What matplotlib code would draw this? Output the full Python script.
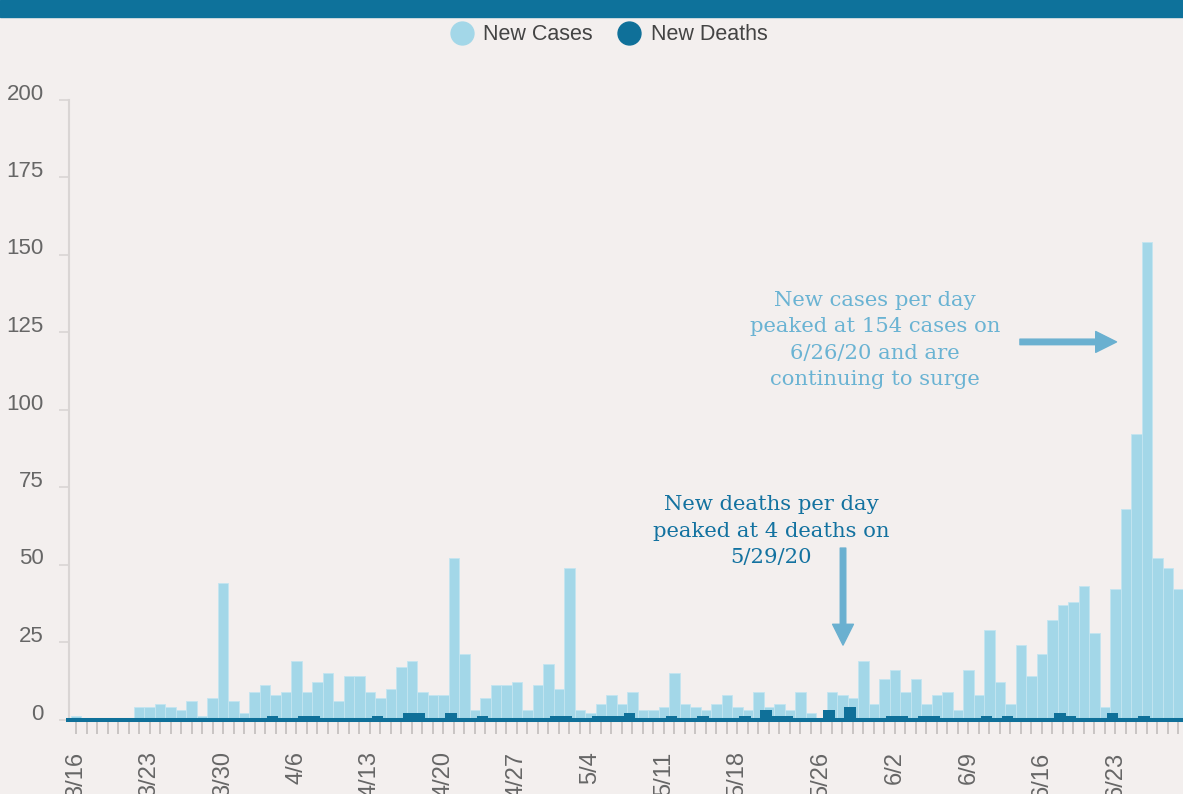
import matplotlib.pyplot as plt
import pandas as pd
from matplotlib.lines import Line2D
from matplotlib.patches import Rectangle

# daily counts from 3/16/20 to 6/29/20
dates = pd.date_range("2020-03-16", "2020-06-29", freq="D")
cases = [1, 0, 0, 0, 0, 0, 4, 4, 5, 4, 3, 6, 1, 7, 44, 6,
         2, 9, 11, 8, 9, 19, 9, 12, 15, 6, 14, 14, 9, 7, 10, 17, 19, 9, 8, 8,
         52, 21, 3, 7, 11, 11, 12, 3, 11, 18,
         10, 49, 3, 2, 5, 8, 5, 9, 3, 3, 4, 15, 5, 4, 3, 5, 8, 4, 3, 9,
         4, 5, 3, 9, 2, 0, 9, 8, 7, 19, 5,
         13, 16, 9, 13, 5, 8, 9, 3, 16, 8, 29, 12, 5, 24, 14, 21, 32, 37, 38, 43,
         28, 4, 42, 68, 92, 154, 52, 49, 42]
deaths = [0, 0, 0, 0, 0, 0, 0, 0, 0, 0,
          0, 0, 0, 0, 0, 0, 0, 0, 0, 1,
          0, 0, 1, 1, 0, 0, 0, 0, 0, 1,
          0, 0, 2, 2, 0, 0, 2, 0, 0, 1,
          0, 0, 0, 0, 0, 0, 1, 1, 0, 0,
          1, 1, 1, 2, 0, 0, 0, 1, 0, 0,
          1, 0, 0, 0, 1, 0, 3, 1, 1, 0,
          0, 0, 3, 0, 4, 0, 0, 0, 1, 1,
          0, 1, 1, 0, 0, 0, 0, 1, 0, 1,
          0, 0, 0, 0, 2, 1, 0, 0, 0, 2,
          0, 0, 1, 0, 0, 0]
tick_labels = ['3/16', '3/23', '3/30', '4/6', '4/13', '4/20', '4/27', '5/4',
               '5/11', '5/18', '5/26', '6/2', '6/9', '6/16', '6/23']
yticks = [0, 25, 50, 75, 100, 125, 150, 175, 200]

bg = '#f3efee'
light = '#a3d7e8'
dark = '#0f7099'
arrow_c = '#6ab0d0'

plt.rcParams['font.family'] = ['Liberation Sans', 'DejaVu Sans']

days = list(range(len(dates)))
labels_all = [f"{d.month}/{d.day}" for d in dates]

fig = plt.figure(figsize=(11.83, 7.94), dpi=100, facecolor=bg)
ax = fig.add_axes([69/1183, 74.5/794, 1114/1183, 620/794])
ax.set_facecolor(bg)

# header band
fig.add_artist(Rectangle((0, 1 - 17/794), 1, 17/794, transform=fig.transFigure,
                         color='#0e729b', zorder=0))

ax.bar(days, cases, width=1.0, color=light, edgecolor='#c3e5f0', linewidth=0.6, zorder=2)
ax.hlines(0, -0.95, len(days) + 1, color=dark, linewidth=2.9, zorder=3, clip_on=False)
ax.bar([d - 0.3 for d in days], deaths, width=1.1, color=dark, zorder=4)

ax.set_xlim(-0.667, 105.43)
ax.set_ylim(0, 200)

# axes styling
for s in ['top', 'right', 'bottom']:
    ax.spines[s].set_visible(False)
ax.spines['left'].set_color('#d9d5d4')
ax.spines['left'].set_linewidth(1.5)

ax.set_yticks(yticks)
ax.tick_params(axis='y', length=7, width=1.2, color='#d9d5d4', labelsize=16,
               labelcolor='#666666', pad=11)
plt.setp(ax.get_yticklabels(), va='baseline')

major = [labels_all.index(t) for t in tick_labels]
ax.set_xticks(major)
ax.set_xticklabels(tick_labels, rotation=90)
ax.set_xticks(days, minor=True)
ax.tick_params(axis='x', which='both', length=10, width=1.4, color='#c8c4c3')
ax.tick_params(axis='x', which='major', labelsize=17, labelcolor='#666666', pad=13)

# annotations
ax.text(76.1, 122.4, "New cases per day\npeaked at 154 cases on\n6/26/20 and are\ncontinuing to surge",
        ha='center', va='center', color='#6ab3d3', family='DejaVu Serif', fontsize=15.2,
        linespacing=1.5)
ax.annotate('', xy=(99.1, 121.8), xytext=(89.9, 121.8),
            arrowprops=dict(arrowstyle='simple,head_length=15,head_width=15,tail_width=4',
                            mutation_scale=1, color=arrow_c, shrinkA=0, shrinkB=0))
ax.text(66.2, 60.8, "New deaths per day\npeaked at 4 deaths on\n5/29/20",
        ha='center', va='center', color='#1372a0', family='DejaVu Serif', fontsize=15.2,
        linespacing=1.5)
ax.annotate('', xy=(73.05, 24.0), xytext=(73.05, 55.3),
            arrowprops=dict(arrowstyle='simple,head_length=15,head_width=15,tail_width=4',
                            mutation_scale=1, color=arrow_c, shrinkA=0, shrinkB=0))

# legend
handles = [Line2D([], [], marker='o', linestyle='', markersize=16.5, color=light),
           Line2D([], [], marker='o', linestyle='', markersize=16.5, color=dark)]
leg = fig.legend(handles, ['New Cases', 'New Deaths'], loc='center', ncol=2,
                 bbox_to_anchor=(0.515, 1 - 35/794), frameon=False, fontsize=15.5,
                 handlelength=1.0, handletextpad=0.5, columnspacing=1.2)
for t in leg.get_texts():
    t.set_color('#444444')

plt.savefig('out.png', dpi=100, facecolor=bg)
